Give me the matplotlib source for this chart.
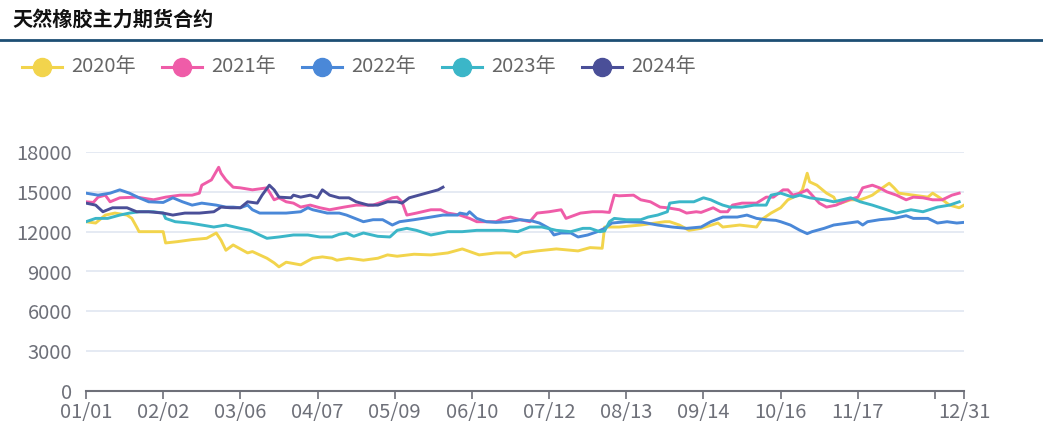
import matplotlib
matplotlib.use("Agg")
import matplotlib.pyplot as plt
from matplotlib.lines import Line2D

plt.rcParams['font.family'] = ['Noto Sans CJK SC', 'DejaVu Sans']

title = "天然橡胶主力期货合约"
series_names = ["2020年", "2021年", "2022年", "2023年", "2024年"]
colors = ["#f2d44c", "#ef5ca8", "#4a88d8", "#3bb6c8", "#4a4f98"]

tick_days = [0, 32, 64, 96, 128, 160, 192, 224, 256, 288, 320, 352, 364]
tick_labels = ["01/01", "02/02", "03/06", "04/07", "05/09", "06/10", "07/12",
               "08/13", "09/14", "10/16", "11/17", "", "12/31"]
y_ticks = [0, 3000, 6000, 9000, 12000, 15000, 18000]

days_2020 = [0, 4, 8, 12, 17, 19, 21, 22, 32, 33, 38, 44, 50, 54, 56, 58, 61, 67, 69, 75, 78, 80, 83, 89, 94, 98,
             102, 104, 109, 115, 121, 125, 129, 136, 143, 150, 156, 163, 170, 176, 178, 181, 187, 195, 204, 209,
             214, 215, 221, 230, 240, 242, 246, 250, 255, 262, 264, 271, 278, 280, 284, 288, 291, 295, 297, 299,
             300, 303, 307, 310, 311, 313, 317, 321, 324, 326, 329, 333, 335, 337, 343, 349, 351, 354, 358, 362, 364]
vals_2020 = [12750, 12650, 13250, 13400, 13250, 13000, 12350, 12000, 12000, 11150, 11250, 11400, 11500, 11900,
             11350, 10600, 11000, 10400, 10500, 10000, 9650, 9350, 9700, 9500, 10000, 10100, 10000, 9850, 10000,
             9850, 10000, 10250, 10150, 10300, 10250, 10400, 10700, 10250, 10400, 10400, 10100, 10400, 10550,
             10700, 10550, 10800, 10750, 12350, 12350, 12500, 12750, 12750, 12500, 12100, 12250, 12650, 12350,
             12500, 12350, 12900, 13400, 13800, 14400, 14750, 15150, 16400, 15750, 15500, 14900, 14600, 14250,
             14150, 14400, 14400, 14600, 14750, 15150, 15650, 15300, 14900, 14750, 14600, 14900, 14550, 14000,
             13800, 14000]

days_2021 = [0, 3, 5, 8, 10, 14, 21, 28, 33, 39, 44, 47, 48, 52, 55, 56, 58, 61, 64, 69, 75, 78, 80, 83, 86, 89,
             93, 97, 101, 107, 112, 119, 123, 127, 129, 131, 133, 137, 143, 147, 150, 155, 159, 162, 170, 173,
             176, 180, 184, 187, 192, 197, 199, 205, 210, 214, 217, 219, 221, 227, 230, 234, 238, 241, 246, 249,
             253, 255, 260, 263, 266, 268, 272, 278, 282, 285, 289, 291, 293, 296, 299, 301, 304, 307, 311, 316,
             320, 322, 326, 329, 332, 336, 340, 343, 347, 351, 355, 359, 362]
vals_2021 = [14250, 14200, 14600, 14750, 14250, 14550, 14600, 14400, 14600, 14750, 14750, 14900, 15500, 15900,
             16850, 16400, 15900, 15350, 15300, 15150, 15300, 14400, 14550, 14250, 14150, 13850, 14000, 13800,
             13650, 13850, 14000, 14000, 14250, 14550, 14600, 14250, 13250, 13400, 13650, 13650, 13400, 13250,
             13000, 12750, 12750, 13000, 13100, 12900, 12750, 13400, 13500, 13650, 13000, 13400, 13500, 13500,
             13450, 14750, 14700, 14750, 14400, 14250, 13850, 13800, 13650, 13400, 13500, 13450, 13800, 13500,
             13500, 14000, 14150, 14150, 14600, 14600, 15150, 15150, 14750, 14900, 15150, 14750, 14150, 13850,
             14000, 14400, 14600, 15300, 15500, 15300, 15000, 14750, 14400, 14600, 14550, 14400, 14400, 14750,
             14900]

days_2022 = [0, 5, 10, 14, 18, 22, 26, 32, 36, 40, 44, 48, 54, 58, 61, 64, 67, 69, 72, 78, 83, 89, 92, 94, 100,
             105, 108, 115, 119, 123, 127, 130, 136, 143, 148, 154, 155, 158, 159, 162, 166, 170, 175, 180, 185,
             188, 192, 194, 197, 201, 204, 208, 212, 215, 218, 224, 231, 237, 243, 249, 255, 259, 264, 270, 274,
             278, 282, 286, 288, 292, 296, 299, 301, 306, 310, 316, 320, 322, 324, 329, 335, 340, 343, 349, 353,
             357, 361, 364]
vals_2022 = [14900, 14750, 14900, 15150, 14900, 14550, 14250, 14200, 14550, 14250, 14000, 14150, 14000, 13850,
             13850, 13800, 14000, 13650, 13400, 13400, 13400, 13500, 13800, 13650, 13400, 13400, 13250, 12750,
             12900, 12900, 12500, 12750, 12900, 13100, 13250, 13250, 13400, 13300, 13500, 13000, 12750, 12700,
             12750, 12900, 12800, 12650, 12250, 11750, 11900, 11900, 11600, 11750, 12000, 12250, 12650, 12750,
             12700, 12500, 12350, 12250, 12350, 12750, 13100, 13100, 13250, 13000, 12900, 12850, 12750, 12500,
             12100, 11850, 12000, 12250, 12500, 12650, 12750, 12500, 12750, 12900, 13000, 13200, 13000, 13000,
             12650, 12750, 12650, 12700]

days_2023 = [0, 4, 9, 14, 18, 22, 28, 32, 33, 37, 43, 48, 53, 58, 64, 68, 72, 75, 80, 86, 92, 97, 102, 105, 108,
             111, 115, 121, 126, 129, 133, 137, 143, 150, 156, 162, 167, 173, 179, 184, 189, 195, 201, 206, 209,
             213, 215, 217, 219, 224, 230, 233, 237, 241, 242, 246, 252, 256, 259, 262, 264, 267, 272, 277, 282,
             284, 288, 293, 296, 300, 306, 310, 317, 321, 326, 332, 336, 342, 347, 353, 358, 362]
vals_2023 = [12750, 13000, 13000, 13250, 13400, 13500, 13500, 13400, 13000, 12750, 12650, 12500, 12350, 12500,
             12250, 12100, 11750, 11500, 11600, 11750, 11750, 11600, 11600, 11800, 11900, 11650, 11900, 11650,
             11600, 12100, 12250, 12100, 11750, 12000, 12000, 12100, 12100, 12100, 12000, 12350, 12350, 12100,
             12000, 12250, 12250, 12000, 12050, 12750, 13000, 12900, 12900, 13100, 13250, 13500, 14150, 14250,
             14250, 14550, 14400, 14150, 14000, 13850, 13850, 14000, 14000, 14750, 14900, 14600, 14750, 14550,
             14400, 14250, 14550, 14250, 14000, 13650, 13400, 13650, 13500, 13850, 14000, 14250]

days_2024 = [0, 4, 7, 11, 17, 21, 26, 32, 36, 41, 47, 53, 56, 60, 64, 67, 71, 73, 76, 78, 80, 85, 86, 89, 93, 96,
             98, 101, 105, 109, 112, 117, 121, 125, 129, 131, 134, 138, 143, 146, 148]
vals_2024 = [14150, 14000, 13500, 13800, 13800, 13500, 13500, 13400, 13250, 13400, 13400, 13500, 13850, 13800,
             13800, 14250, 14150, 14750, 15500, 15150, 14600, 14550, 14750, 14600, 14750, 14550, 15150, 14750,
             14550, 14550, 14250, 14000, 14000, 14250, 14250, 14150, 14550, 14750, 15000, 15150, 15350]

all_days = [days_2020, days_2021, days_2022, days_2023, days_2024]
all_vals = [vals_2020, vals_2021, vals_2022, vals_2023, vals_2024]

W, H = 1043, 436
fig = plt.figure(figsize=(W / 100, H / 100), dpi=100)
ax = fig.add_axes([86 / W, (H - 391) / H, (964 - 86) / W, (391 - 152) / H])

for d, v, c in zip(all_days, all_vals, colors):
    ax.plot(d, v, color=c, lw=2.1, solid_joinstyle='round', zorder=3)

ax.set_xlim(0, 364)
ax.set_ylim(0, 18000)
ax.set_yticks(y_ticks)
ax.set_yticklabels([str(t) for t in y_ticks])
ax.set_xticks(tick_days)
ax.set_xticklabels(tick_labels)
ax.grid(axis='y', color='#e0e6f1', lw=1.2, zorder=0)
for s in ['top', 'right', 'left']:
    ax.spines[s].set_visible(False)
ax.spines['bottom'].set_color('#6e7079')
ax.spines['bottom'].set_linewidth(1.5)
ax.tick_params(axis='y', length=0, pad=10, labelsize=14.5, labelcolor='#6e7079')
ax.tick_params(axis='x', length=6, width=1.2, color='#6e7079', pad=2, labelsize=14.5, labelcolor='#6e7079')

# title and rule
fig.text(12 / W, 1 - 19 / H, title, fontsize=14.5, fontweight='bold', color='#111111', va='center', ha='left')
fig.add_artist(Line2D([0, 1], [1 - 40 / H, 1 - 40 / H], transform=fig.transFigure, color='#1d4e74', lw=2))

# legend
for i, (name, c) in enumerate(zip(series_names, colors)):
    x0 = 22 + 140 * i
    y = 1 - 67 / H
    fig.add_artist(Line2D([x0 / W, (x0 + 40) / W], [y, y], transform=fig.transFigure, color=c, lw=2.2))
    fig.add_artist(Line2D([(x0 + 20) / W], [y], transform=fig.transFigure, marker='o', markersize=13,
                          color=c, markeredgecolor=c))
    fig.text((x0 + 49) / W, y, name, fontsize=14.5, color='#666666', va='center', ha='left')

fig.savefig("out.png", dpi=100)
